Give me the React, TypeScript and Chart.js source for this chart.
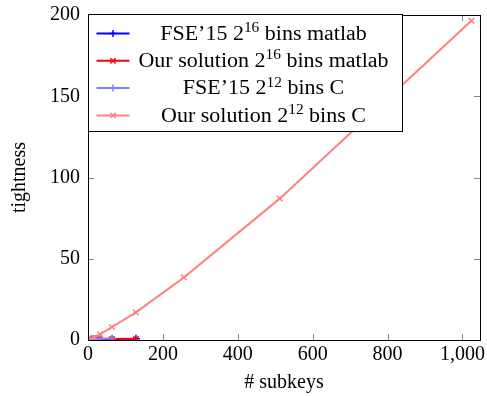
import React, { useEffect, useRef } from "react";
import { Chart, registerables } from "chart.js";
Chart.register(...registerables);

const subkeysMatlab = [8, 16, 32, 64, 128];
const fseMatlab = [0.3, 0.4, 0.5, 0.6, 0.8];
const oursMatlab = [0.2, 0.3, 0.4, 0.5, 0.6];
const subkeysFseC = [8, 16, 32, 64];
const fseC = [0.3, 0.5, 0.7, 1.0];
const subkeysOursC = [8, 16, 32, 64, 128, 256, 512, 1024];
const oursC = [0.5, 1.5, 3.5, 8, 17, 38.5, 87, 196.5];
const xTicks = [0, 200, 400, 600, 800, 1000];
const yTicks = [0, 50, 100, 150, 200];
const legendParts: [string, string, string][] = [
  ["FSE\u201915 2", "16", " bins matlab"],
  ["Our solution 2", "16", " bins matlab"],
  ["FSE\u201915 2", "12", " bins C"],
  ["Our solution 2", "12", " bins C"],
];
const seriesColors = ["#0000ff", "#ff0000", "#8080ff", "#ff8080"];
const seriesMarkers = ["cross", "crossRot", "cross", "crossRot"];

const FONT = "'Liberation Serif', 'DejaVu Serif', serif";
const FS = 20;

const pts = (xs: number[], ys: number[]) => xs.map((x, i) => ({ x, y: ys[i] }));

const framePlugin = {
  id: "frameTicksLegend",
  afterDraw(chart: any) {
    const ctx = chart.ctx;
    const a = chart.chartArea;
    const xs = chart.scales.x;
    const ys = chart.scales.y;
    ctx.save();
    ctx.strokeStyle = "#888";
    ctx.lineWidth = 1;
    const L = 6;
    xTicks.forEach((v) => {
      const px = Math.round(xs.getPixelForValue(v)) + 0.5;
      ctx.beginPath();
      ctx.moveTo(px, a.bottom);
      ctx.lineTo(px, a.bottom - L);
      ctx.moveTo(px, a.top);
      ctx.lineTo(px, a.top + L);
      ctx.stroke();
    });
    yTicks.forEach((v) => {
      const py = Math.round(ys.getPixelForValue(v)) + 0.5;
      ctx.beginPath();
      ctx.moveTo(a.left, py);
      ctx.lineTo(a.left + L, py);
      ctx.moveTo(a.right, py);
      ctx.lineTo(a.right - L, py);
      ctx.stroke();
    });
    ctx.strokeStyle = "#000";
    ctx.lineWidth = 1;
    ctx.strokeRect(Math.round(a.left) + 0.5, Math.round(a.top) + 0.5, Math.round(a.right - a.left), Math.round(a.bottom - a.top));
    // legend
    const lx = Math.round(a.left) + 0.5;
    const ly = Math.round(a.top) - 0.5;
    const lw = 314;
    const lh = 117;
    ctx.fillStyle = "#fff";
    ctx.fillRect(lx, ly, lw, lh);
    ctx.strokeStyle = "#000";
    ctx.strokeRect(lx, ly, lw, lh);
    const rowH = 27.3;
    const LFS = 20;
    const supFS = 14;
    const sx = 1.1;
    const textCenter = lx + 175;
    legendParts.forEach((p, i) => {
      const cy = ly + 19 + i * rowH;
      const color = seriesColors[i];
      ctx.strokeStyle = color;
      ctx.lineWidth = 2;
      ctx.beginPath();
      ctx.moveTo(lx + 8, cy);
      ctx.lineTo(lx + 41, cy);
      ctx.stroke();
      ctx.lineWidth = 1.5;
      const mx = lx + 24.5;
      const r = 3.5;
      ctx.beginPath();
      if (seriesMarkers[i] === "cross") {
        ctx.moveTo(mx, cy - r);
        ctx.lineTo(mx, cy + r);
        ctx.moveTo(mx - r, cy);
        ctx.lineTo(mx + r, cy);
      } else {
        const d = r * 0.75;
        ctx.moveTo(mx - d, cy - d);
        ctx.lineTo(mx + d, cy + d);
        ctx.moveTo(mx - d, cy + d);
        ctx.lineTo(mx + d, cy - d);
      }
      ctx.stroke();
      ctx.fillStyle = "#000";
      ctx.textBaseline = "middle";
      ctx.textAlign = "left";
      ctx.font = `${LFS}px ${FONT}`;
      const w1 = ctx.measureText(p[0]).width;
      const w3 = ctx.measureText(p[2]).width;
      ctx.font = `${supFS}px ${FONT}`;
      const w2 = ctx.measureText(p[1]).width;
      const total = (w1 + w2 + w3) * sx;
      ctx.save();
      ctx.translate(textCenter - total / 2, cy);
      ctx.scale(sx, 1);
      let x = 0;
      ctx.font = `${LFS}px ${FONT}`;
      ctx.fillText(p[0], x, 1);
      x += w1;
      ctx.font = `${supFS}px ${FONT}`;
      ctx.fillText(p[1], x, -5);
      x += w2;
      ctx.font = `${LFS}px ${FONT}`;
      ctx.fillText(p[2], x, 1);
      ctx.restore();
    });
    ctx.restore();
  },
};

export default function App() {
  const ref = useRef<HTMLCanvasElement | null>(null);
  useEffect(() => {
    if (!ref.current) return;
    const mk = (label: string, data: any[], i: number) => ({
      label,
      data,
      borderColor: seriesColors[i],
      backgroundColor: seriesColors[i],
      borderWidth: 2,
      pointStyle: seriesMarkers[i] as any,
      pointRadius: 4,
      pointBorderWidth: 1.5,
      pointBorderColor: seriesColors[i],
      showLine: true,
      tension: 0,
      order: 4 - i,
    });
    const chart = new Chart(ref.current, {
      type: "scatter",
      data: {
        datasets: [
          mk("FSE'15 2^16 bins matlab", pts(subkeysMatlab, fseMatlab), 0),
          mk("Our solution 2^16 bins matlab", pts(subkeysMatlab, oursMatlab), 1),
          mk("FSE'15 2^12 bins C", pts(subkeysFseC, fseC), 2),
          mk("Our solution 2^12 bins C", pts(subkeysOursC, oursC), 3),
        ],
      },
      options: {
        animation: false,
        responsive: false,
        locale: "en-US",
        layout: { padding: { top: 15, right: 7, left: 0, bottom: 0 } },
        plugins: { legend: { display: false }, tooltip: { enabled: false } },
        scales: {
          x: {
            type: "linear",
            min: 0,
            max: 1047,
            afterBuildTicks: (s: any) => {
              s.ticks = xTicks.map((v) => ({ value: v }));
            },
            afterFit: (s: any) => {
              s.height = 56;
              s.paddingLeft = 0;
              s.paddingRight = 0;
            },
            grid: { display: false, drawTicks: false },
            border: { display: false },
            ticks: { color: "#000", font: { family: FONT, size: FS }, padding: 3, maxRotation: 0 },
            title: { display: true, text: "# subkeys", color: "#000", font: { family: FONT, size: FS }, padding: { top: 0, bottom: 1 } },
          },
          y: {
            type: "linear",
            min: 0,
            max: 200,
            afterBuildTicks: (s: any) => {
              s.ticks = yTicks.map((v) => ({ value: v }));
            },
            afterFit: (s: any) => {
              s.width = 88;
              s.paddingTop = 0;
              s.paddingBottom = 0;
            },
            grid: { display: false, drawTicks: false },
            border: { display: false },
            ticks: { color: "#000", font: { family: FONT, size: FS }, padding: 8 },
            title: { display: true, text: "tightness", color: "#000", font: { family: FONT, size: FS }, padding: { top: 8, bottom: 0 } },
          },
        },
      },
      plugins: [framePlugin],
    });
    return () => chart.destroy();
  }, []);
  return (
    <div style={{ position: "absolute", left: 0, top: 0, width: 487, height: 396, background: "#fff" }}>
      <canvas ref={ref} width={487} height={396} style={{ width: 487, height: 396 }} />
    </div>
  );
}
